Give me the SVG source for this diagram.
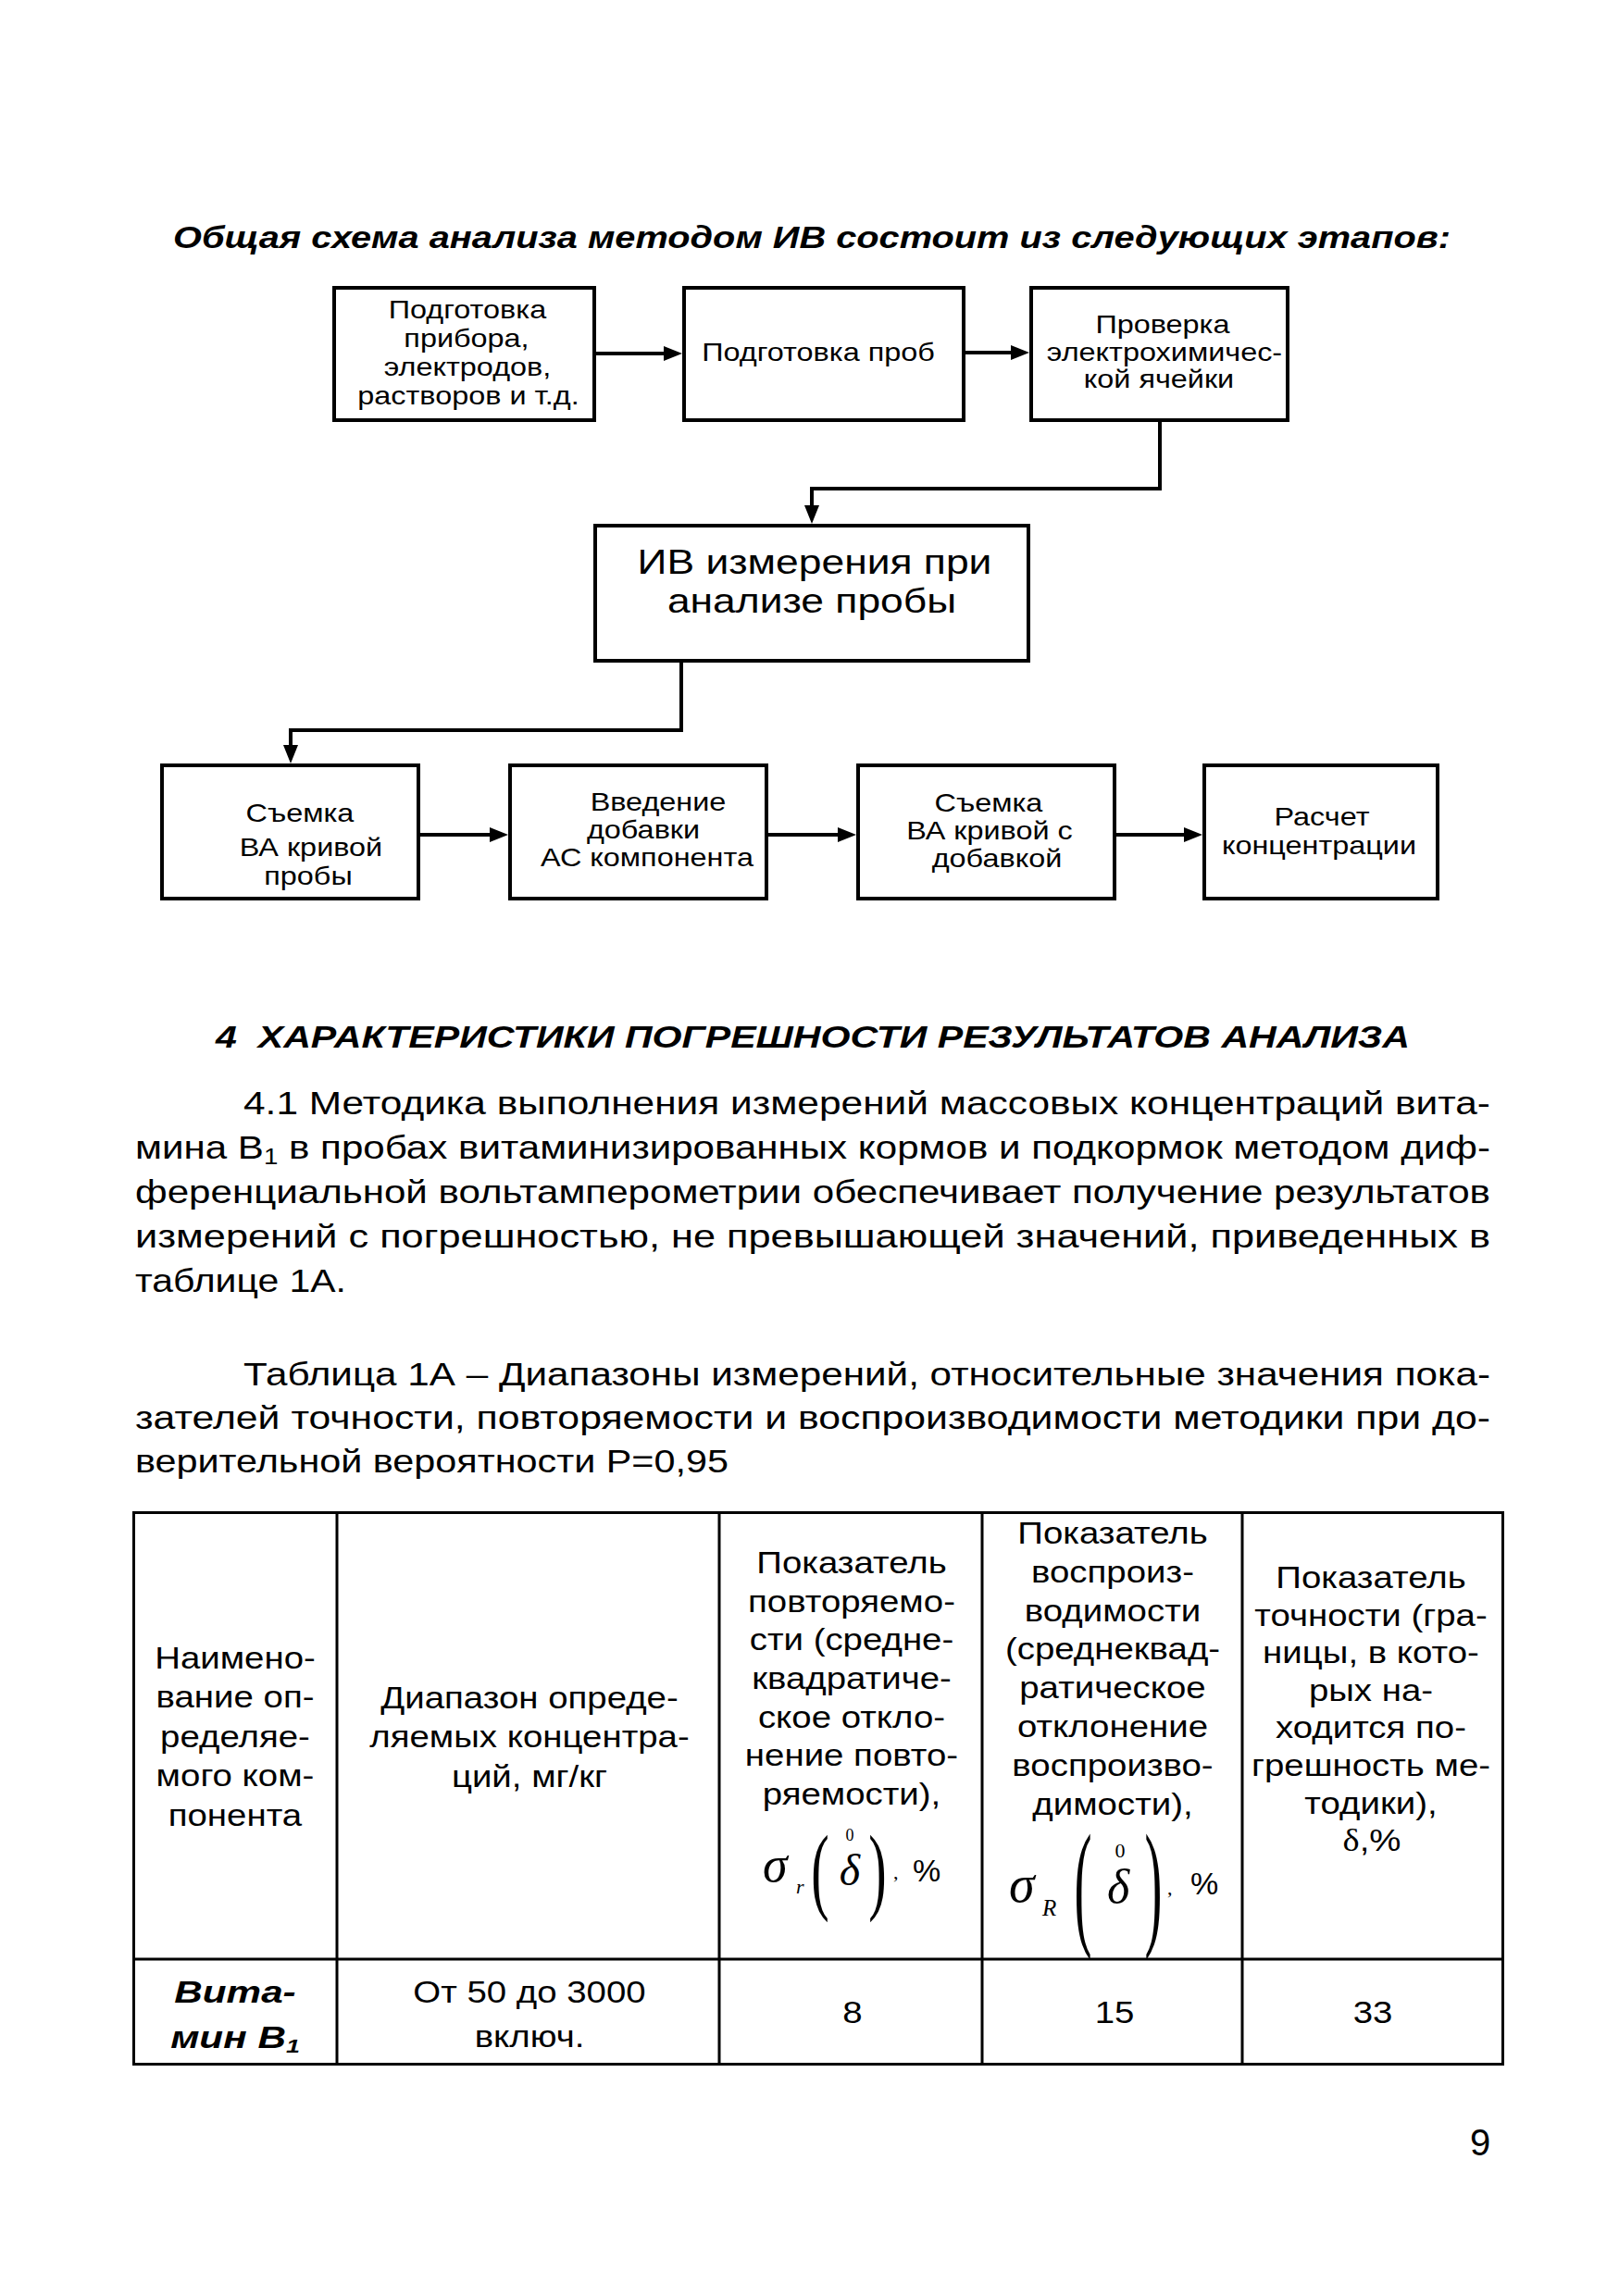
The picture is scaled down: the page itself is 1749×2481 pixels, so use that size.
<svg xmlns="http://www.w3.org/2000/svg" width="1749" height="2481" viewBox="0 0 1749 2481">
<style>
.box{fill:#fff;stroke:#000;stroke-width:4}
.ln{fill:none;stroke:#000;stroke-width:4;stroke-linejoin:miter}
.tl{fill:none;stroke:#000;stroke-width:3}
text{font-family:"Liberation Sans",Arial,sans-serif;fill:#000}
.bt{font-size:27px;text-anchor:middle;transform-box:fill-box;transform-origin:center;transform:scaleX(1.2)}
.bt2{font-size:37px;text-anchor:middle;transform-box:fill-box;transform-origin:center;transform:scaleX(1.2)}
.hd{font-size:34px;font-weight:bold;font-style:italic}
.bd{font-size:35px}
.th{font-size:34px;text-anchor:middle;transform-box:fill-box;transform-origin:center;transform:scaleX(1.13)}
.tb{font-size:33px;font-weight:bold;font-style:italic;text-anchor:middle;transform-box:fill-box;transform-origin:center;transform:scaleX(1.28)}
.m{font-family:"Liberation Serif","Times New Roman",serif}
.mi{font-family:"Liberation Serif","Times New Roman",serif;font-style:italic}
</style>
<defs>
<marker id="ah" markerUnits="userSpaceOnUse" markerWidth="20" markerHeight="16" refX="0" refY="8" orient="auto">
<path d="M0,0 L20,8 L0,16 z" fill="#000"/>
</marker>
</defs>
<rect width="1749" height="2481" fill="#fff"/>

<text class="hd" x="187" y="268" textLength="1380" lengthAdjust="spacingAndGlyphs">Общая схема анализа методом ИВ состоит из следующих этапов:</text>

<g id="connectors">
<path class="ln" d="M643,382 H717" marker-end="url(#ah)"/>
<path class="ln" d="M1043,381 H1092" marker-end="url(#ah)"/>
<path class="ln" d="M1253,456 V528 H877 V546" marker-end="url(#ah)"/>
<path class="ln" d="M736,716 V789 H314 V805" marker-end="url(#ah)"/>
<path class="ln" d="M454,902 H529" marker-end="url(#ah)"/>
<path class="ln" d="M830,902 H905" marker-end="url(#ah)"/>
<path class="ln" d="M1206,902 H1279" marker-end="url(#ah)"/>
</g>

<g id="n1">
<rect class="box" x="361" y="311" width="281" height="143"/>
<text class="bt" x="505" y="344">Подготовка</text>
<text class="bt" x="504" y="375">прибора,</text>
<text class="bt" x="505" y="406">электродов,</text>
<text class="bt" x="506" y="437">растворов и т.д.</text>
</g>
<g id="n2">
<rect class="box" x="739" y="311" width="302" height="143"/>
<text class="bt" x="884" y="390">Подготовка проб</text>
</g>
<g id="n3">
<rect class="box" x="1114" y="311" width="277" height="143"/>
<text class="bt" x="1256" y="360">Проверка</text>
<text class="bt" x="1258" y="390">электрохимичес-</text>
<text class="bt" x="1252" y="419">кой ячейки</text>
</g>
<g id="n4">
<rect class="box" x="643" y="568" width="468" height="146"/>
<text class="bt2" x="880" y="620">ИВ измерения при</text>
<text class="bt2" x="877" y="662">анализе пробы</text>
</g>
<g id="n5">
<rect class="box" x="175" y="827" width="277" height="144"/>
<text class="bt" x="324" y="888">Съемка</text>
<text class="bt" x="336" y="925">ВА кривой</text>
<text class="bt" x="333" y="956">пробы</text>
</g>
<g id="n6">
<rect class="box" x="551" y="827" width="277" height="144"/>
<text class="bt" x="711" y="876">Введение</text>
<text class="bt" x="695" y="906">добавки</text>
<text class="bt" x="699" y="936">АС компонента</text>
</g>
<g id="n7">
<rect class="box" x="927" y="827" width="277" height="144"/>
<text class="bt" x="1068" y="877">Съемка</text>
<text class="bt" x="1069" y="907">ВА кривой с</text>
<text class="bt" x="1077" y="937">добавкой</text>
</g>
<g id="n8">
<rect class="box" x="1301" y="827" width="252" height="144"/>
<text class="bt" x="1428" y="892">Расчет</text>
<text class="bt" x="1425" y="923">концентрации</text>
</g>

<text class="hd" x="233" y="1132" textLength="1290" lengthAdjust="spacingAndGlyphs">4&#160; ХАРАКТЕРИСТИКИ ПОГРЕШНОСТИ РЕЗУЛЬТАТОВ АНАЛИЗА</text>

<g id="para">
<text class="bd" x="263" y="1204" textLength="1347" lengthAdjust="spacingAndGlyphs">4.1 Методика выполнения измерений массовых концентраций вита-</text>
<text class="bd" x="146" y="1252" textLength="1464" lengthAdjust="spacingAndGlyphs">мина В<tspan font-size="23" dy="6">1</tspan><tspan dy="-6"> в пробах витаминизированных кормов и подкормок методом диф-</tspan></text>
<text class="bd" x="146" y="1300" textLength="1464" lengthAdjust="spacingAndGlyphs">ференциальной вольтамперометрии обеспечивает получение результатов</text>
<text class="bd" x="146" y="1348" textLength="1464" lengthAdjust="spacingAndGlyphs">измерений с погрешностью, не превышающей значений, приведенных в</text>
<text class="bd" x="146" y="1396" textLength="228" lengthAdjust="spacingAndGlyphs">таблице 1А.</text>
</g>

<g id="caption">
<text class="bd" x="263" y="1497" textLength="1347" lengthAdjust="spacingAndGlyphs">Таблица 1А – Диапазоны измерений, относительные значения пока-</text>
<text class="bd" x="146" y="1544" textLength="1464" lengthAdjust="spacingAndGlyphs">зателей точности, повторяемости и воспроизводимости методики при до-</text>
<text class="bd" x="146" y="1591" textLength="641" lengthAdjust="spacingAndGlyphs">верительной вероятности Р=0,95</text>
</g>

<g id="table">
<rect class="tl" x="144.5" y="1634.5" width="1479" height="596"/>
<line class="tl" x1="364" y1="1633" x2="364" y2="2232"/>
<line class="tl" x1="777" y1="1633" x2="777" y2="2232"/>
<line class="tl" x1="1061" y1="1633" x2="1061" y2="2232"/>
<line class="tl" x1="1342" y1="1633" x2="1342" y2="2232"/>
<line class="tl" x1="143" y1="2117" x2="1625" y2="2117"/>

<text class="th" x="254" y="1803">Наимено-</text>
<text class="th" x="254" y="1845">вание оп-</text>
<text class="th" x="254" y="1888">ределяе-</text>
<text class="th" x="254" y="1930">мого ком-</text>
<text class="th" x="254" y="1973">понента</text>

<text class="th" x="572" y="1846">Диапазон опреде-</text>
<text class="th" x="572" y="1888">ляемых концентра-</text>
<text class="th" x="572" y="1931">ций, мг/кг</text>

<text class="th" x="920" y="1700">Показатель</text>
<text class="th" x="920" y="1742">повторяемо-</text>
<text class="th" x="920" y="1783">сти (средне-</text>
<text class="th" x="920" y="1825">квадратиче-</text>
<text class="th" x="920" y="1867">ское откло-</text>
<text class="th" x="920" y="1908">нение повто-</text>
<text class="th" x="920" y="1950">ряемости),</text>

<text class="mi" x="824" y="2033" font-size="54">σ</text>
<text class="mi" x="860" y="2046" font-size="22">r</text>
<text class="m" transform="translate(886,2055) scale(0.56,1)" font-size="104" text-anchor="middle">(</text>
<text class="m" x="918" y="1989" font-size="18" text-anchor="middle">0</text>
<text class="mi" x="918" y="2037" font-size="48" text-anchor="middle">δ</text>
<text class="m" transform="translate(948,2055) scale(0.56,1)" font-size="104" text-anchor="middle">)</text>
<text class="m" x="965" y="2030" font-size="22">,</text>
<text x="986" y="2033" font-size="34">%</text>

<text class="th" x="1202" y="1668">Показатель</text>
<text class="th" x="1202" y="1710">воспроиз-</text>
<text class="th" x="1202" y="1752">водимости</text>
<text class="th" x="1202" y="1793">(среднеквад-</text>
<text class="th" x="1202" y="1835">ратическое</text>
<text class="th" x="1202" y="1877">отклонение</text>
<text class="th" x="1202" y="1919">воспроизво-</text>
<text class="th" x="1202" y="1961">димости),</text>

<text class="mi" x="1090" y="2055" font-size="56">σ</text>
<text class="mi" x="1126" y="2070" font-size="25">R</text>
<text class="m" transform="translate(1170,2086) scale(0.38,1)" font-size="150" text-anchor="middle">(</text>
<text class="m" x="1210" y="2007" font-size="22" text-anchor="middle">0</text>
<text class="mi" x="1208" y="2056" font-size="52" text-anchor="middle">δ</text>
<text class="m" transform="translate(1246,2086) scale(0.38,1)" font-size="150" text-anchor="middle">)</text>
<text class="m" x="1261" y="2047" font-size="22">,</text>
<text x="1286" y="2047" font-size="34">%</text>

<text class="th" x="1481" y="1716">Показатель</text>
<text class="th" x="1481" y="1757">точности (гра-</text>
<text class="th" x="1481" y="1797">ницы, в кото-</text>
<text class="th" x="1481" y="1838">рых на-</text>
<text class="th" x="1481" y="1878">ходится по-</text>
<text class="th" x="1481" y="1919">грешность ме-</text>
<text class="th" x="1481" y="1960">тодики),</text>
<text class="th" x="1482" y="2000"><tspan class="m">δ</tspan>,%</text>

<text class="tb" x="254" y="2164">Вита-</text>
<text class="tb" x="254" y="2213">мин В<tspan font-size="21" dy="5">1</tspan></text>
<text class="th" x="572" y="2164">От 50 до 3000</text>
<text class="th" x="572" y="2212">включ.</text>
<text class="th" x="921" y="2186">8</text>
<text class="th" x="1204" y="2186">15</text>
<text class="th" x="1483" y="2186">33</text>
</g>

<text x="1588" y="2329" font-size="40">9</text>
</svg>
